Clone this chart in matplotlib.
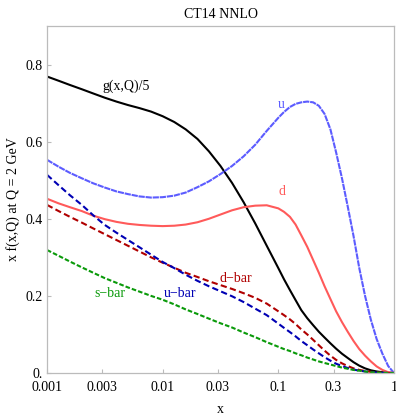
import matplotlib
matplotlib.use("Agg")
import matplotlib.pyplot as plt

plt.rcParams['font.family'] = ['Liberation Serif', 'DejaVu Serif']

x_vals = [0.001, 0.00126, 0.00158, 0.002, 0.00251, 0.00316, 0.00398, 0.00501,
          0.00631, 0.00794, 0.01, 0.0126, 0.0158, 0.02, 0.0251, 0.0316, 0.0398,
          0.0501, 0.0631, 0.0794, 0.1,
          0.112, 0.126, 0.141, 0.158, 0.178, 0.2, 0.224, 0.251, 0.282, 0.316,
          0.355, 0.398, 0.447, 0.501, 0.562, 0.631, 0.708, 0.794, 0.891, 1.0]

g_over5 = [0.769, 0.758, 0.747, 0.736, 0.725, 0.714, 0.704, 0.695, 0.687, 0.678,
           0.666, 0.651, 0.632, 0.607, 0.575, 0.537, 0.493, 0.443, 0.388, 0.330,
           0.272,
           0.243, 0.215, 0.189, 0.163, 0.142, 0.124, 0.107, 0.092, 0.077, 0.063,
           0.050, 0.039, 0.028, 0.019, 0.012, 0.007, 0.004, 0.002, 0.0005, 0.0]
u_vals = [0.553, 0.535, 0.519, 0.505, 0.492, 0.481, 0.471, 0.464, 0.458, 0.455,
          0.456, 0.460, 0.468, 0.482, 0.497, 0.516, 0.537, 0.562, 0.592, 0.628,
          0.662,
          0.677, 0.690, 0.698, 0.702, 0.704, 0.702, 0.693, 0.672, 0.632, 0.572,
          0.505, 0.432, 0.355, 0.272, 0.200, 0.138, 0.088, 0.050, 0.018, 0.0]
d_vals = [0.452, 0.440, 0.430, 0.420, 0.408, 0.399, 0.392, 0.387, 0.384, 0.382,
          0.381, 0.382, 0.385, 0.391, 0.400, 0.411, 0.422, 0.430, 0.434, 0.435,
          0.427,
          0.418, 0.405, 0.385, 0.357, 0.327, 0.293, 0.260, 0.225, 0.192, 0.160,
          0.132, 0.107, 0.083, 0.062, 0.045, 0.030, 0.017, 0.008, 0.002, 0.0]
ubar_vals = [0.514, 0.487, 0.461, 0.436, 0.409, 0.384, 0.364, 0.345, 0.326, 0.307,
             0.288, 0.272, 0.255, 0.239, 0.225, 0.212, 0.199, 0.184, 0.167, 0.150,
             0.128,
             0.117, 0.106, 0.095, 0.083, 0.072, 0.061, 0.051, 0.041, 0.032, 0.024,
             0.018, 0.013, 0.009, 0.006, 0.004, 0.002, 0.001, 0.0005, 0.0002, 0.0]
dbar_vals = [0.436, 0.420, 0.405, 0.390, 0.375, 0.360, 0.345, 0.330, 0.315, 0.300,
             0.286, 0.273, 0.260, 0.249, 0.238, 0.228, 0.218, 0.207, 0.195, 0.180,
             0.160,
             0.150, 0.139, 0.127, 0.113, 0.100, 0.086, 0.072, 0.058, 0.045, 0.034,
             0.025, 0.018, 0.012, 0.008, 0.005, 0.003, 0.0015, 0.0007, 0.0002, 0.0]
sbar_vals = [0.319, 0.304, 0.289, 0.274, 0.260, 0.246, 0.234, 0.222, 0.211, 0.200,
             0.190, 0.178, 0.165, 0.153, 0.141, 0.129, 0.118, 0.105, 0.093, 0.080,
             0.068,
             0.062, 0.057, 0.051, 0.046, 0.040, 0.035, 0.030, 0.026, 0.022, 0.018,
             0.014, 0.011, 0.008, 0.006, 0.004, 0.002, 0.001, 0.0005, 0.0002, 0.0]

xticks = [0.001, 0.003, 0.01, 0.03, 0.1, 0.3, 1]
xticklabels = ["0.001", "0.003", "0.01", "0.03", "0.1", "0.3", "1"]
yticks = [0, 0.2, 0.4, 0.6, 0.8]
yticklabels = ["0.", "0.2", "0.4", "0.6", "0.8"]

fig = plt.figure(figsize=(3.96, 4.15), dpi=100)
ax = fig.add_axes([47/396, 42/415, 347/396, 347/415])

ax.plot(x_vals, g_over5, color='black', lw=1.5)
ax.plot(x_vals, u_vals, color='#5c5cff', lw=1.5, dashes=(3, 0.4))
ax.plot(x_vals, d_vals, color='#ff5a5a', lw=1.5)
ax.plot(x_vals, dbar_vals, color='#b00000', lw=1.5, dashes=(3, 1.6))
ax.plot(x_vals, ubar_vals, color='#0000b4', lw=1.5, dashes=(3, 1.6))
ax.plot(x_vals, sbar_vals, color='#0a9a0a', lw=1.5, dashes=(2.2, 1.0))

ax.set_xscale('log')
ax.set_xlim(0.001, 1)
ax.set_ylim(0, 0.9)
ax.set_xticks(xticks)
ax.set_xticklabels(xticklabels)
ax.set_yticks(yticks)
ax.set_yticklabels(yticklabels)
ax.minorticks_off()
ax.tick_params(direction='in', length=3, width=0.8, color='#bbbbbb',
               labelsize=10)
ax.tick_params(axis='x', pad=6)
ax.tick_params(axis='y', pad=3)
for s in ax.spines.values():
    s.set_color('#bbbbbb')
    s.set_linewidth(0.9)

ax.set_title("CT14 NNLO", fontsize=10, pad=6)
ax.set_xlabel("x", fontsize=10, labelpad=6)
ax.set_ylabel("x f(x,Q) at Q = 2 GeV", fontsize=10, labelpad=4)

fs = 10
ax.text(0.0030, 0.743, "g(x,Q)/5", color='black', fontsize=fs, ha='left', va='center')
ax.text(0.107, 0.696, "u", color='#5c5cff', fontsize=fs, ha='center', va='center')
ax.text(0.107, 0.470, "d", color='#ff5a5a', fontsize=fs, ha='center', va='center')
ax.text(0.0035, 0.205, "s\u2212bar", color='#0a9a0a', fontsize=fs, ha='center', va='center')
ax.text(0.0142, 0.205, "u\u2212bar", color='#0000b4', fontsize=fs, ha='center', va='center')
ax.text(0.0425, 0.244, "d\u2212bar", color='#b00000', fontsize=fs, ha='center', va='center')

fig.savefig("out.png", dpi=100)
